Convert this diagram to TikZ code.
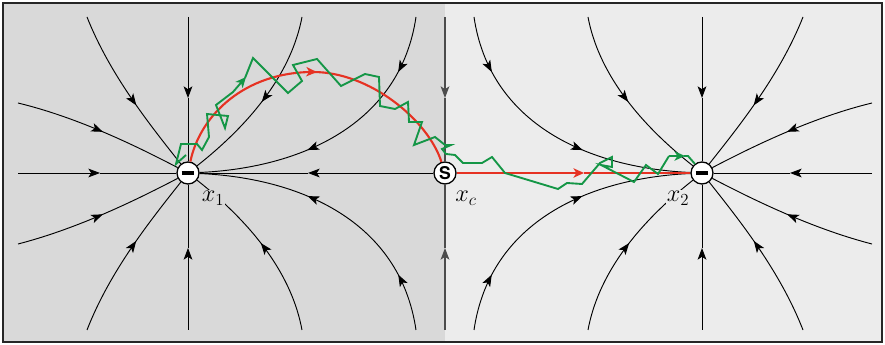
\documentclass[tikz,border=0pt]{standalone}
\usepackage{amsmath,amssymb}
\usepackage{xcolor}
\usepackage{fontspec}
\setsansfont{TeX Gyre Heros}
\usepackage{tikz}
\usetikzlibrary{arrows.meta,decorations.markings}
\definecolor{basinL}{RGB}{217,217,217}
\definecolor{basinR}{RGB}{236,236,236}
\definecolor{mepred}{RGB}{230,50,35}
\definecolor{walkgreen}{RGB}{20,150,70}
\tikzset{
  fline/.style  ={line width=0.8pt,black},
  sepx/.style   ={line width=1pt,black!70},
  ftip/.style   ={-{Stealth[length=10pt,width=7.5pt,inset=2.5pt]}},
  flow/.style   ={postaction={decorate,decoration={markings,
                   mark=at position #1 with {\arrow{Stealth[length=10pt,width=7.5pt,inset=2.5pt]}}}}},
  mep/.style    ={line width=1.8pt,mepred},
  walk/.style   ={line width=1.6pt,walkgreen,line join=miter},
  walktip/.style={-{Stealth[length=9pt,width=8pt,inset=2.5pt]}},
  well/.style   ={circle,draw,fill=white,line width=1.1pt,minimum size=0.66cm,inner sep=0pt},
  saddle/.style ={well,font=\sffamily\bfseries\fontsize{15}{15}\selectfont},
  lbl/.style    ={font=\fontsize{20}{22}\selectfont,inner sep=1pt},
}

\begin{document}
\begin{tikzpicture}[x=0.03cm,y=-0.03cm]
  \useasboundingbox (0,0) rectangle (885,345);
  % two basins
  \fill[basinL] (3,3) rectangle (445,342);
  \fill[basinR] (445,3) rectangle (882,342);
  \draw[line width=0.9pt,black!85] (3,3) rectangle (882,342);
  % fixed points
  \node[well]   (x1) at (188,173) {\rule{11pt}{2.6pt}};
  \node[saddle] (xc) at (445,173) {S};
  \node[well]   (x2) at (702,173) {\rule{11pt}{2.6pt}};
  % stable manifold of the saddle
  \draw[sepx,ftip] (445,17)  -- (445,98);  \draw[sepx] (445,98)  -- (xc);
  \draw[sepx,ftip] (445,330) -- (445,248); \draw[sepx] (445,248) -- (xc);
  % left basin
  \draw[fline,ftip] (18,173)  -- (100,173); \draw[fline] (100,173) -- (x1);
  \draw[fline,ftip] (188,17)  -- (188,98);  \draw[fline] (188,98)  -- (x1);
  \draw[fline,ftip] (188,330) -- (188,248); \draw[fline] (188,248) -- (x1);
  \draw[fline,ftip] (xc) -- (308,173);      \draw[fline] (308,173) -- (x1);
  \draw[fline,flow=0.58] (87,17)  .. controls (110,75)  and (150,125) .. (x1);
  \draw[fline,flow=0.58] (87,330) .. controls (110,271) and (150,221) .. (x1);
  \draw[fline,flow=0.52] (18,103) .. controls (80,118)  and (140,148) .. (x1);
  \draw[fline,flow=0.52] (18,244) .. controls (80,228)  and (140,198) .. (x1);
  \draw[fline,flow=0.51] (302,17)  .. controls (292,70)  and (255,120) .. (x1);
  \draw[fline,flow=0.52] (302,330) .. controls (292,276) and (255,226) .. (x1);
  \draw[fline,flow=0.2,flow=0.62] (416,17)  .. controls (400,125) and (300,168) .. (x1);
  \draw[fline,flow=0.2,flow=0.62] (416,330) .. controls (400,221) and (300,178) .. (x1);
  % right basin
  \draw[fline,ftip] (872,173) -- (790,173); \draw[fline] (790,173) -- (x2);
  \draw[fline,ftip] (702,17)  -- (702,98);  \draw[fline] (702,98)  -- (x2);
  \draw[fline,ftip] (702,330) -- (702,248); \draw[fline] (702,248) -- (x2);
  \draw[fline,flow=0.58] (803,17)  .. controls (780,75)  and (740,125) .. (x2);
  \draw[fline,flow=0.58] (803,330) .. controls (780,271) and (740,221) .. (x2);
  \draw[fline,flow=0.52] (872,103) .. controls (810,118) and (750,148) .. (x2);
  \draw[fline,flow=0.52] (872,244) .. controls (810,228) and (750,198) .. (x2);
  \draw[fline,flow=0.51] (588,17)  .. controls (598,70)  and (635,120) .. (x2);
  \draw[fline,flow=0.52] (588,330) .. controls (598,276) and (635,226) .. (x2);
  \draw[fline,flow=0.2,flow=0.62] (474,17)  .. controls (490,125) and (590,168) .. (x2);
  \draw[fline,flow=0.2,flow=0.62] (474,330) .. controls (490,221) and (590,178) .. (x2);
  % minimum energy path
  \draw[mep,postaction={decorate,decoration={markings,
        mark=at position 0.51 with {\arrow{Stealth[length=9pt,width=8pt,inset=2.5pt]}}}}]
    (x1) .. controls (200,115) and (245,72) .. (313,72)
         .. controls (370,72) and (428,120) .. (xc);
  \draw[mep,-{Stealth[length=9pt,width=8pt,inset=2.5pt]}] (xc) -- (584,173);
  \draw[mep] (584,173) -- (x2);
  % noisy escape path
  \draw[walk,walktip] (186,155) -- (176,164) -- (181,144) -- (197,144) -- (202,150)
    -- (209,137) -- (207,114) -- (228,116) -- (225,128) -- (216,105) -- (233,92) -- (246,77);
  \draw[walk] (245,78) -- (253,58) -- (288,93) -- (302,81) -- (293,65) -- (317,59)
    -- (341,86) -- (365,74) -- (379,77) -- (380,106) -- (395,109) -- (408,102) -- (409,122)
    -- (422,122) -- (414,145) -- (435,137) -- (445,145) -- (451,145) -- (442,149)
    -- (446,154) -- (455,155) -- (463,163) -- (482,163) -- (492,157) -- (505,173)
    -- (558,189) -- (567,183) -- (582,184) -- (600,163) -- (612,157) -- (612,167)
    -- (601,165) -- (634,182) -- (646,165) -- (658,174) -- (669,156);
  \draw[walk,walktip] (669,156) -- (685,156);
  \draw[walk] (684,156) -- (688,156) -- (695,164);
  % labels
  \node[lbl,fill=basinL] (l1) at (213,198) {$x_1$};
  \node[lbl]             (lc) at (466,198) {$x_c$};
  \node[lbl,fill=basinR] (l2) at (678,198) {$x_2$};
\end{tikzpicture}
\end{document}
